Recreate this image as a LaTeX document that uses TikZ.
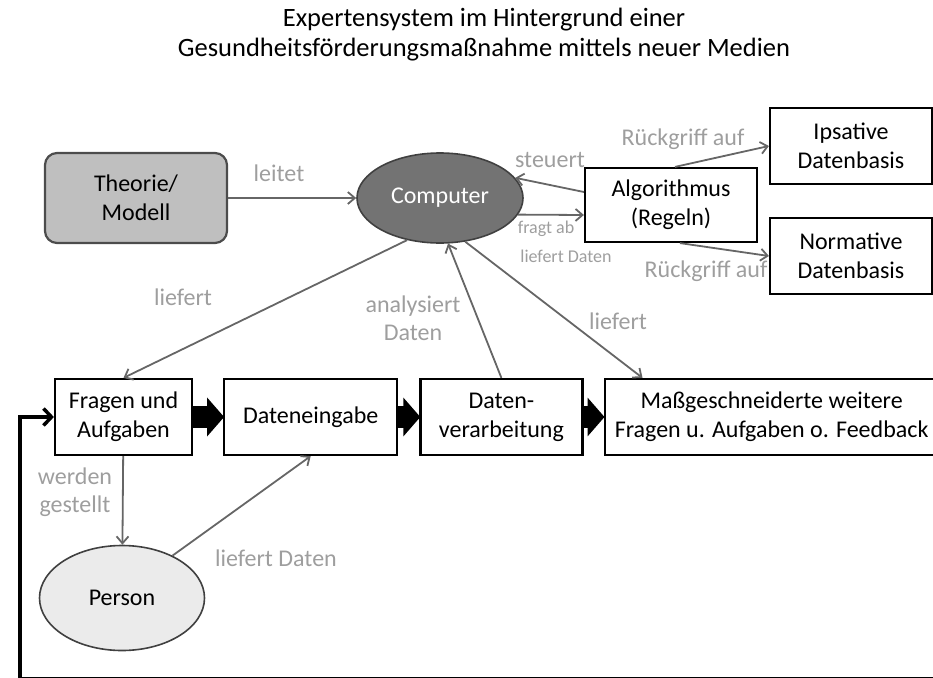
\documentclass[tikz,border=0pt]{standalone}
\usepackage{fontspec}
\setmainfont{Carlito}
\usepackage{tikz}
\usetikzlibrary{positioning,shapes.geometric,arrows.meta}

\definecolor{lblgray}{gray}{0.62}
\definecolor{congray}{gray}{0.40}
\definecolor{theoriefill}{gray}{0.75}
\definecolor{computerfill}{gray}{0.45}
\definecolor{personfill}{gray}{0.92}

\tikzset{
  txt/.style={font=\fontsize{24}{29}\selectfont, align=center, text=black},
  box/.style={txt, draw, line width=2.2pt, inner sep=1pt, minimum height=76pt},
  blob/.style={txt, ellipse, draw, line width=1.6pt, inner sep=0pt},
  lbl/.style={font=\fontsize{24}{28}\selectfont, text=lblgray, align=center, inner sep=0pt},
  con/.style={draw=congray, line width=1.8pt, -{Straight Barb[length=7pt,width=12pt]}},
  flow/.style={line width=22pt, -{Triangle[length=17pt,width=38pt]}, shorten <=-1pt, shorten >=-1pt},
}

\begin{document}
\begin{tikzpicture}[x=1pt, y=-1pt]
\useasboundingbox (0,0) rectangle (933,677);

\node[font=\fontsize{26.5}{30}\selectfont, align=center] (title) at (484,35)
  {Expertensystem im Hintergrund einer\\Gesundheitsförderungsmaßnahme mittels neuer Medien};

\node[box, rounded corners=12pt, fill=theoriefill, draw=black!70, minimum width=182pt, minimum height=90pt] (theorie) at (136,198) {Theorie/\\Modell};
\node[blob, fill=computerfill, draw=black!75, text=white, minimum width=166pt, minimum height=90pt] (computer) at (440,198) {Computer};
\node[box, minimum width=172pt, minimum height=74pt] (algo) at (671,205) {Algorithmus\\(Regeln)};
\node[box, minimum width=162pt] (ipsativ) at (851,146) {Ipsative\\Datenbasis};
\node[box, minimum width=162pt] (normativ) at (851,256) {Normative\\Datenbasis};

\node[box, minimum width=137pt] (fragen) at (123.5,417) {Fragen und\\Aufgaben};
\node[box, minimum width=173pt, right=30pt of fragen] (eingabe) {Dateneingabe};
\node[box, minimum width=162pt, right=21pt of eingabe] (verarb) {Daten-\\verarbeitung};
\node[box, minimum width=334pt, right=20pt of verarb] (mass) {Maßgeschneiderte weitere\\Fragen u. Aufgaben o. Feedback};
\node[blob, fill=personfill, draw=black!75, minimum width=165pt, minimum height=105pt] (person) at (122,598) {Person};

% labels
\node[lbl] (l-leitet) at (279,173) {leitet};
\node[lbl] (l-steuert) at (550,160) {steuert};
\node[lbl, font=\fontsize{18}{22}\selectfont] (l-fragt) at (546,229) {fragt ab};
\node[lbl, font=\fontsize{18}{22}\selectfont] (l-liefert3) at (566,256) {liefert Daten};
\node[lbl] (l-rueck1) at (683,139) {Rückgriff auf};
\node[lbl] (l-rueck2) at (706,271) {Rückgriff auf};
\node[lbl] (l-liefert1) at (183,297) {liefert};
\node[lbl] (l-analyse) at (413,318) {analysiert\\Daten};
\node[lbl] (l-liefert2) at (618,321) {liefert};
\node[lbl] (l-gestellt) at (75,492) {werden\\gestellt};
\node[lbl] (l-daten) at (276,558) {liefert Daten};

% Connect nodes
\draw[con] (theorie) -- (computer);
\draw[con] ([yshift=13pt]algo.west) -- (computer.15);
\draw[con] (computer.-12) -- ([yshift=-10pt]algo.west);
\draw[con] ([xshift=4pt]algo.north) -- (ipsativ.west);
\draw[con] ([xshift=9pt]algo.south) -- (normativ.west);
\draw[con] (computer.232) -- (fragen.north);
\draw[con] (verarb.north) -- (computer.-80);
\draw[con] (computer.-60) -- ([xshift=39pt]mass.north west);
\draw[con] (fragen) -- (person);
\draw[con] (person.40) -- (eingabe.south);

% main flow
\draw[flow] (fragen) -- (eingabe);
\draw[flow] (eingabe) -- (verarb);
\draw[flow] (verarb) -- (mass);

% feedback loop
\coordinate (loopend) at (935,678.5);
\coordinate (loopcorner) at (20,678.5);
\draw[line width=3.5pt, -{Straight Barb[length=8pt,width=17pt]}] (loopend) -- (loopcorner) |- (fragen.west);
\end{tikzpicture}
\end{document}
